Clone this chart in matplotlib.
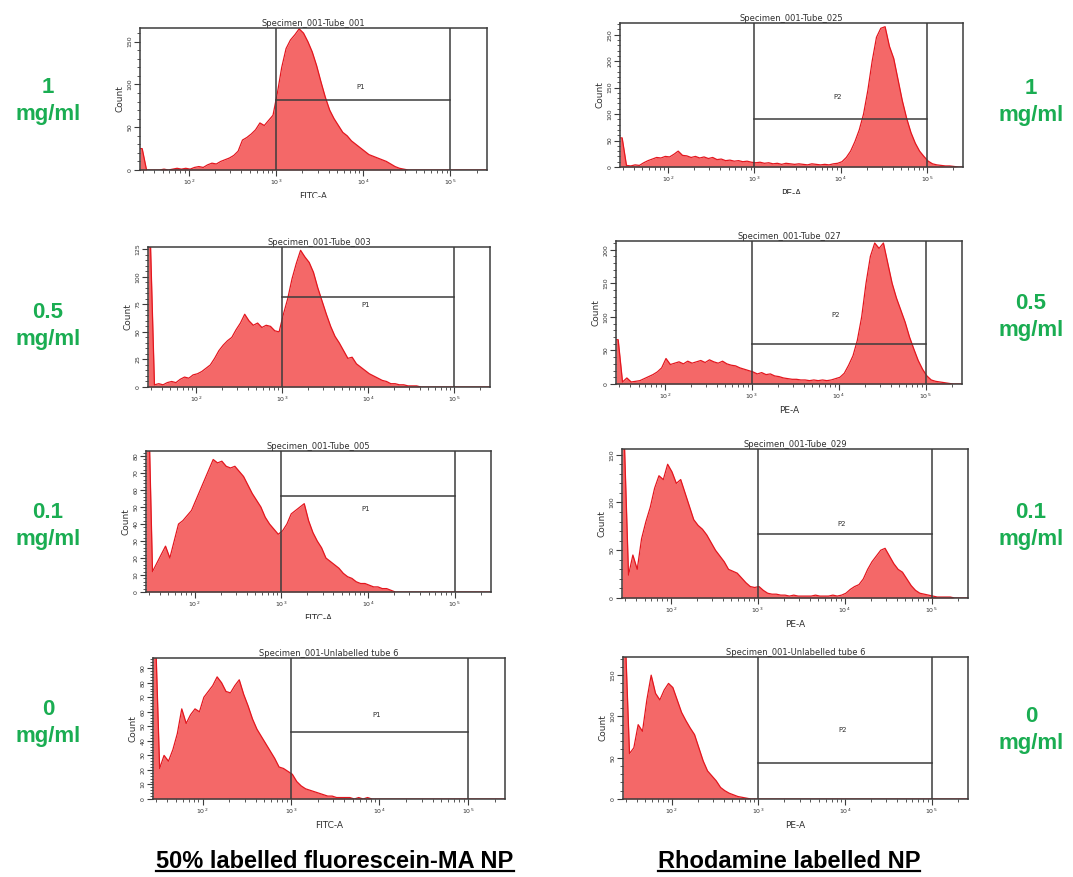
import numpy as np
import matplotlib
matplotlib.use('Agg')
import matplotlib.pyplot as plt
from matplotlib.ticker import LogLocator, MultipleLocator, NullFormatter
from matplotlib.transforms import Bbox, TransformedBbox
from matplotlib.lines import Line2D

# histogram counts, bins of 0.05 decade starting at 10^1.44
fitc_1mg = [25, 0, 0, 0, 0, 1, 0, 1, 2, 1, 2, 1, 3, 4, 3, 6, 8, 7, 10, 12, 14, 17, 22, 35,
            38, 42, 47, 55, 52, 58, 64, 90, 120, 142, 152, 158, 165, 160, 150, 138, 122,
            103, 85, 70, 60, 52, 44, 40, 34, 30, 26, 22, 18, 16, 14, 12, 10, 7, 4, 2, 1]
pe_1mg = [55, 3, 2, 4, 3, 8, 12, 15, 18, 17, 20, 19, 24, 30, 22, 21, 18, 20, 17, 19, 16,
          18, 14, 15, 12, 13, 11, 12, 10, 11, 9, 8, 9, 7, 8, 6, 7, 5, 7, 6, 5, 6, 5, 4, 6,
          5, 4, 5, 4, 6, 7, 10, 18, 30, 48, 70, 100, 145, 200, 245, 262, 265, 228, 205,
          165, 125, 92, 65, 45, 30, 20, 11, 6, 4, 3, 2, 2, 1]
fitc_05mg = [140, 2, 3, 2, 4, 5, 4, 7, 9, 8, 11, 12, 14, 17, 20, 26, 33, 38, 42, 45, 52,
             58, 66, 60, 56, 58, 54, 56, 55, 51, 50, 66, 80, 98, 112, 124, 118, 113, 104,
             90, 78, 66, 55, 46, 40, 33, 26, 27, 21, 18, 15, 12, 10, 8, 6, 5, 3, 3, 2, 2,
             1, 1, 1]
pe_05mg = [66, 3, 9, 3, 4, 5, 8, 11, 14, 18, 24, 38, 29, 31, 33, 30, 34, 31, 33, 35, 32,
           36, 33, 31, 34, 30, 28, 27, 24, 22, 20, 18, 15, 17, 14, 15, 12, 11, 9, 8, 7, 7,
           6, 6, 5, 6, 5, 6, 5, 6, 8, 10, 16, 28, 42, 65, 100, 150, 190, 210, 202, 210,
           180, 150, 128, 110, 92, 70, 52, 35, 22, 12, 6, 4, 3, 2, 1]
fitc_01mg = [120, 12, 17, 22, 27, 20, 30, 40, 42, 45, 48, 54, 60, 66, 72, 78, 76, 77, 74,
             73, 74, 71, 68, 63, 58, 54, 50, 44, 40, 37, 34, 36, 40, 46, 48, 50, 52, 42,
             35, 30, 26, 20, 18, 16, 14, 11, 9, 8, 6, 5, 5, 4, 3, 3, 2, 2, 1]
pe_01mg = [170, 24, 45, 30, 62, 80, 95, 115, 128, 124, 140, 132, 120, 124, 110, 96, 82,
           76, 72, 66, 58, 50, 44, 38, 30, 28, 26, 21, 16, 12, 11, 12, 8, 5, 4, 4, 3, 3,
           2, 3, 2, 2, 2, 2, 3, 2, 2, 2, 3, 2, 3, 5, 9, 12, 14, 20, 30, 38, 44, 50, 52,
           44, 36, 30, 27, 20, 13, 8, 5, 4, 3, 2, 1, 1, 1, 1]
fitc_0mg = [120, 21, 30, 26, 34, 45, 62, 52, 58, 62, 60, 70, 74, 78, 84, 80, 74, 73, 78,
            82, 72, 64, 55, 48, 43, 38, 33, 28, 22, 21, 19, 17, 12, 9, 7, 6, 5, 4, 3, 2,
            2, 1, 1, 1, 1, 0, 1, 0, 1]
pe_0mg = [200, 55, 62, 90, 82, 120, 150, 128, 120, 132, 140, 135, 120, 105, 95, 86, 78,
          62, 46, 34, 28, 22, 14, 10, 7, 5, 3, 2, 1]

titles = ['Specimen_001-Tube_001', 'Specimen_001-Tube_025',
          'Specimen_001-Tube_003', 'Specimen_001-Tube_027',
          'Specimen_001-Tube_005', 'Specimen_001-Tube_029',
          'Specimen_001-Unlabelled tube 6', 'Specimen_001-Unlabelled tube 6']
channels = ['FITC-A', 'PE-A'] * 4
gate_names = ['P1', 'P2'] * 4
y_max = [166, 272, 127, 213, 83, 156, 97, 172]
y_major = [50, 50, 25, 50, 10, 50, 10, 50]
gate_level = [82, 91, 82, 60, 56.5, 67, 46, 43.5]
gate_label_y = [97, 133, 74, 103, 49, 77, 58, 83]
doses = ['1\nmg/ml', '0.5\nmg/ml', '0.1\nmg/ml', '0\nmg/ml']

all_counts = [fitc_1mg, pe_1mg, fitc_05mg, pe_05mg, fitc_01mg, pe_01mg, fitc_0mg, pe_0mg]

W, H = 1073, 877
fig = plt.figure(figsize=(W / 100, H / 100), dpi=100)
fig.patch.set_facecolor('white')

# axes boxes in pixels: left, top, right, bottom
boxes = [(140, 28, 487, 170), (620, 23, 963, 167),
         (148, 247, 490, 387), (616, 241, 962, 384),
         (146, 451, 491, 592), (622, 449, 968, 598),
         (153, 658, 505, 799), (623, 657, 968, 799)]
# pixel row where the axis label is cut off in the source image, None = fully shown
label_cut = [198, 194, 390, None, 619, 627, None, None]

n_bins = 80
log_edges = np.linspace(1.44, 1.44 + 0.05 * n_bins, n_bins + 1)
edges = 10 ** log_edges
centers = 10 ** (0.5 * (log_edges[:-1] + log_edges[1:]))
fill_col = '#f46868'
line_col = '#e3161e'
frame_col = '#3c3c3c'
text_col = '#303030'

for i, counts in enumerate(all_counts):
    l, t, r, b = boxes[i]
    ax = fig.add_axes([l / W, 1 - b / H, (r - l) / W, (b - t) / H])
    c = np.zeros(n_bins)
    c[:len(counts)] = counts
    xs = np.concatenate([[edges[0]], centers])
    ys = np.concatenate([[c[0]], c])
    ax.fill_between(xs, ys, 0, color=fill_col, lw=0)
    ax.plot(xs, ys, color=line_col, lw=0.9)

    ax.set_xscale('log')
    ax.set_xlim(10 ** 1.44, 262144)
    ax.set_ylim(0, y_max[i])

    # gate
    ax.plot([1e3, 1e3], [0, y_max[i]], color=frame_col, lw=1.1)
    ax.plot([1e5, 1e5], [0, y_max[i]], color=frame_col, lw=1.1)
    ax.plot([1e3, 1e5], [gate_level[i], gate_level[i]], color=frame_col, lw=1.1)
    ax.text(10 ** 3.97, gate_label_y[i], gate_names[i], fontsize=5, color=text_col,
            ha='center', va='center')

    ax.xaxis.set_major_locator(LogLocator(base=10, numticks=10))
    ax.xaxis.set_minor_locator(LogLocator(base=10, subs=np.arange(2, 10), numticks=10))
    ax.xaxis.set_minor_formatter(NullFormatter())
    ax.yaxis.set_major_locator(MultipleLocator(y_major[i]))
    ax.yaxis.set_minor_locator(MultipleLocator(y_major[i] / 5))
    ax.tick_params(which='major', length=4, width=0.8, color=frame_col, labelsize=4.5,
                   labelcolor=text_col, pad=1.5)
    ax.tick_params(which='minor', length=2.5, width=0.6, color=frame_col)
    for lab in ax.get_yticklabels():
        lab.set_rotation(90)
        lab.set_va('center')
    for sp in ax.spines.values():
        sp.set_color(frame_col)
        sp.set_linewidth(1.1)

    ax.set_title(titles[i], fontsize=6, color=text_col, pad=1.5)
    ax.set_ylabel('Count', fontsize=6.5, color=text_col, labelpad=2)
    ax.set_xlabel(channels[i], fontsize=6.5, color=text_col, labelpad=4)
    if label_cut[i] is not None:
        clip = TransformedBbox(Bbox([[0, 1 - label_cut[i] / H], [1, 1]]), fig.transFigure)
        ax.xaxis.label.set_clip_box(clip)
        ax.xaxis.label.set_clip_on(True)

green = '#1aad52'
left_y = [101, 326, 526, 723]
right_y = [102, 317, 526, 730]
for k, txt in enumerate(doses):
    fig.text(48 / W, 1 - left_y[k] / H, txt, color=green, fontsize=16, fontweight='bold',
             family='Liberation Sans', ha='center', va='center', linespacing=1.4)
    fig.text(1031 / W, 1 - right_y[k] / H, txt, color=green, fontsize=16, fontweight='bold',
             family='Liberation Sans', ha='center', va='center', linespacing=1.4)

captions = [fig.text(335 / W, 1 - 861 / H, '50% labelled fluorescein-MA NP', fontsize=17,
                     fontweight='bold', family='Liberation Sans',
                     ha='center', va='center', color='black'),
            fig.text(789 / W, 1 - 861 / H, 'Rhodamine labelled NP', fontsize=17,
                     fontweight='bold', family='Liberation Sans',
                     ha='center', va='center', color='black')]

fig.canvas.draw()
renderer = fig.canvas.get_renderer()
inv = fig.transFigure.inverted()
for cap in captions:
    bb = cap.get_window_extent(renderer)
    (x0, y0), (x1, y1) = inv.transform([[bb.x0, bb.y0], [bb.x1, bb.y1]])
    fig.add_artist(Line2D([x0, x1], [y0 + 0.002, y0 + 0.002], transform=fig.transFigure,
                          color='black', lw=1.6))

fig.savefig('out.png', dpi=100, facecolor='white')
